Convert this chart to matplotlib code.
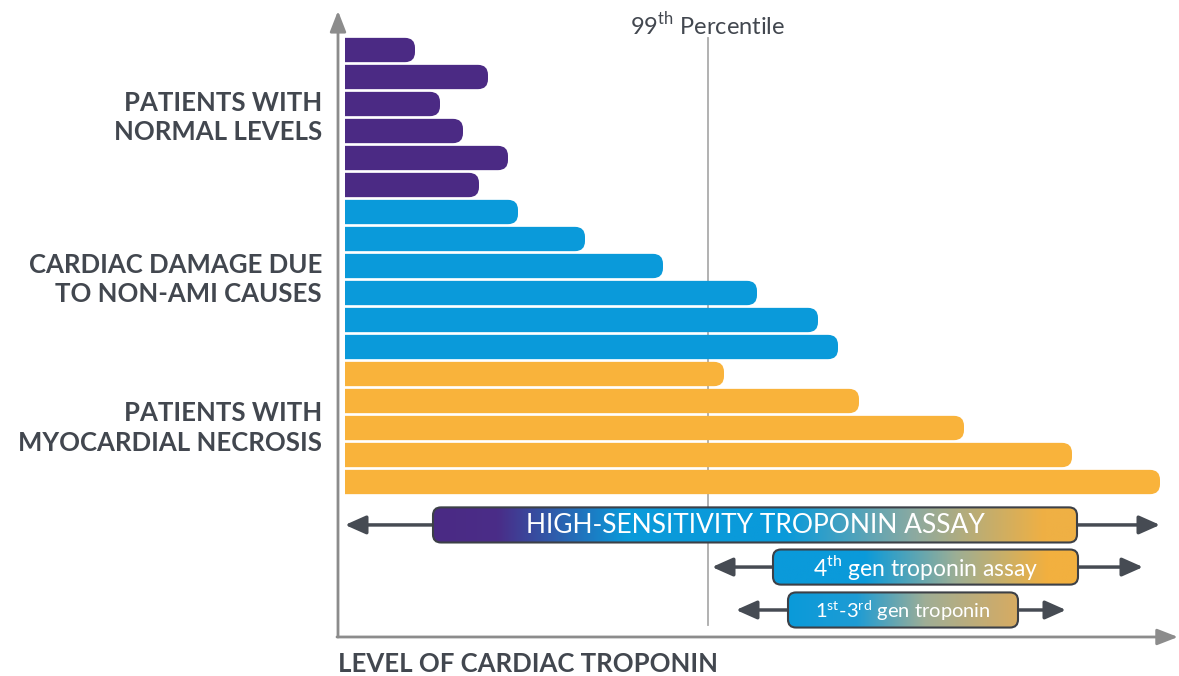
import numpy as np
import matplotlib.pyplot as plt
from matplotlib.patches import FancyBboxPatch, Rectangle
from matplotlib.colors import LinearSegmentedColormap

plt.rcParams['font.family'] = ['Lato', 'DejaVu Sans']
plt.rcParams['mathtext.fontset'] = 'custom'
plt.rcParams['mathtext.rm'] = 'Lato'

# troponin level of each patient row (arbitrary units, 0 = axis)
normal_levels = [70, 143, 95, 118, 163, 134]
non_ami_levels = [173, 240, 318, 412, 473, 493]
necrosis_levels = [379, 514, 619, 727, 815]

group_labels = ['PATIENTS WITH\nNORMAL LEVELS',
                'CARDIAC DAMAGE DUE\nTO NON-AMI CAUSES',
                'PATIENTS WITH\nMYOCARDIAL NECROSIS']
group_colors = ['#4B2A84', '#0A9ADA', '#F9B33B']

percentile_99 = 363

# assay detection ranges
assay_names = ['HIGH-SENSITIVITY TROPONIN ASSAY',
               '4$^{\\mathrm{th}}$ gen troponin assay',
               '1$^{\\mathrm{st}}$-3$^{\\mathrm{rd}}$ gen troponin']
assay_box_start = [88, 428, 443]
assay_box_end = [732, 733, 673]
assay_arrow_start = [0, 367, 391]
assay_arrow_end = [815, 798, 721]
assay_gradients = [
    [(0, '#4B2A84'), (0.1, '#4A2D88'), (0.3, '#0A9ADA'), (0.55, '#0A9ADA'),
     (0.75, '#8DAAA0'), (0.95, '#EFB044'), (1, '#EFB044')],
    [(0, '#0A9ADA'), (0.3, '#0A9ADA'), (0.6, '#9CAE95'), (0.9, '#F2B03F'), (1, '#F2B03F')],
    [(0, '#0A9ADA'), (0.3, '#1E9CD4'), (0.6, '#A0AE95'), (1, '#D7AB62')],
]

text_col = '#42474F'
axis_col = '#8C8C8C'
arrow_col = '#464B53'

# layout: x in level units (1 unit ~ 1px), y in row units (27px per row)
px_per_row = 27.0
aspect = 1 / px_per_row

fig = plt.figure(figsize=(11.79, 6.76), dpi=100)
ax = fig.add_axes([0, 0, 1, 1])
ax.set_xlim(-345, 834)
ax.set_ylim(23.185, -1.852)
ax.axis('off')

# bars
levels = [normal_levels, non_ami_levels, necrosis_levels]
clip = Rectangle((0, -5), 2000, 40, transform=ax.transData)
row = 0
group_centers = []
for vals, col in zip(levels, group_colors):
    start = row
    for v in vals:
        p = FancyBboxPatch((-30, row - 0.45), v + 30, 0.9,
                           boxstyle='round,pad=0,rounding_size=10',
                           mutation_aspect=aspect, fc=col, ec='none', zorder=2)
        ax.add_patch(p)
        p.set_clip_path(clip)
        row += 1
    group_centers.append((start + row - 1) / 2)

for lab, yc in zip(group_labels, group_centers):
    ax.text(-23, yc, lab, ha='right', va='center', fontsize=18.5, fontweight='bold',
            color=text_col, linespacing=1.27)

# 99th percentile line
ax.plot([percentile_99, percentile_99], [-0.44, 21.3], color='#ABABAB', lw=1.3, zorder=1)
ax.text(percentile_99, -0.93, '99$^{\\mathrm{th}}$ Percentile', ha='center', va='center',
        fontsize=17, color=text_col)

# axes with arrows
ax.annotate('', xy=(-7, -1.45), xytext=(-7, 21.74),
            arrowprops=dict(arrowstyle='-|>,head_length=0.9,head_width=0.35', color=axis_col,
                            lw=2, mutation_scale=14, shrinkA=0, shrinkB=0))
ax.annotate('', xy=(833, 21.74), xytext=(-8, 21.74),
            arrowprops=dict(arrowstyle='-|>,head_length=0.9,head_width=0.35', color=axis_col,
                            lw=2, mutation_scale=14, shrinkA=0, shrinkB=0))
ax.text(-7, 22.75, 'LEVEL OF CARDIAC TROPONIN', ha='left', va='center', fontsize=18.5,
        fontweight='bold', color=text_col)

# assay ranges
assay_rows = [17.59, 19.15, 20.74]
box_h = 1.3
assay_fs = [19, 16.5, 14.5]
for i in range(3):
    y = assay_rows[i]
    ax.annotate('', xy=(assay_arrow_start[i], y), xytext=(assay_arrow_end[i], y),
                arrowprops=dict(arrowstyle='<|-|>,head_length=0.9,head_width=0.4',
                                color=arrow_col, lw=2.5, mutation_scale=14,
                                shrinkA=0, shrinkB=0), zorder=3)
    x0, x1 = assay_box_start[i], assay_box_end[i]
    box = FancyBboxPatch((x0, y - box_h / 2), x1 - x0, box_h,
                         boxstyle='round,pad=0,rounding_size=8', mutation_aspect=aspect,
                         fc='none', ec='#3C4047', lw=1.5, zorder=5)
    ax.add_patch(box)
    cmap = LinearSegmentedColormap.from_list('g%d' % i, assay_gradients[i])
    grad = np.linspace(0, 1, 256).reshape(1, -1)
    im = ax.imshow(grad, extent=[x0, x1, y + box_h / 2, y - box_h / 2], cmap=cmap,
                   aspect='auto', zorder=4, interpolation='bilinear')
    im.set_clip_path(box)
    ax.text((x0 + x1) / 2, y + 0.03, assay_names[i], ha='center', va='center',
            fontsize=assay_fs[i], color='white', zorder=6)

ax.set_xlim(-345, 834)
ax.set_ylim(23.185, -1.852)

fig.savefig('out.png', dpi=100)
